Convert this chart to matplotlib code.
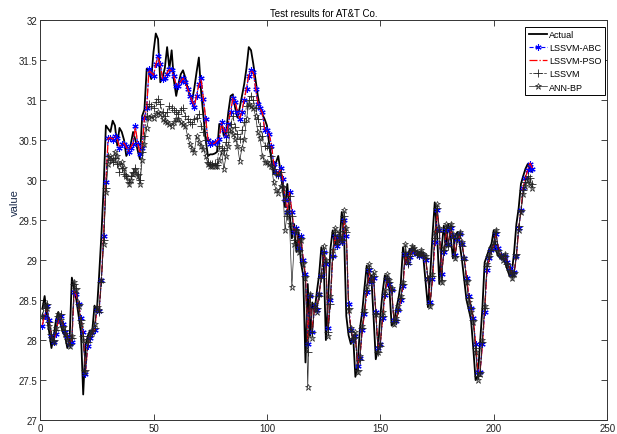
import matplotlib
matplotlib.use("Agg")
import matplotlib.pyplot as plt
import numpy as np

# Test results for AT&T Co. -- day index 1..217
actual = [28.39, 28.55, 28.30, 28.10, 27.90, 28.05, 28.25, 28.35, 28.20, 28.10,
          28.05, 27.90, 28.00, 28.78, 28.64, 28.50, 28.30, 28.10, 27.32, 27.93,
          28.05, 28.12, 28.12, 28.43, 28.35, 28.80, 29.30, 29.90, 30.68, 30.64,
          30.60, 30.74, 30.68, 30.43, 30.65, 30.60, 30.50, 30.30, 30.35, 30.45,
          30.60, 30.50, 30.37, 30.26, 30.80, 30.88, 31.39, 31.37, 31.26, 31.60,
          31.83, 31.76, 31.22, 31.28, 31.40, 31.66, 31.39, 31.62, 31.24, 31.05,
          31.20, 31.32, 31.37, 31.28, 31.15, 31.05, 30.99, 31.15, 31.35, 31.53,
          31.10, 30.80, 30.50, 30.30, 30.32, 30.32, 30.33, 30.35, 30.70, 30.70,
          30.55, 30.60, 30.85, 31.05, 31.07, 30.90, 30.78, 30.90, 31.05, 31.20,
          31.40, 31.66, 31.62, 31.45, 31.25, 31.05, 30.90, 30.82, 30.76, 30.68,
          30.45, 30.25, 30.08, 30.22, 30.30, 30.10, 29.89, 29.66, 29.95, 29.58,
          29.27, 29.45, 29.10, 29.35, 28.97, 28.81, 27.72, 28.70, 28.05, 28.47,
          28.35, 28.60, 28.81, 29.16, 29.02, 28.00, 28.52, 29.14, 29.37, 29.18,
          29.31, 29.22, 29.60, 29.33, 28.30, 28.06, 27.95, 28.06, 27.54, 27.70,
          28.14, 28.35, 28.65, 28.93, 28.72, 28.81, 28.30, 27.76, 27.90, 28.30,
          28.60, 28.81, 28.72, 28.64, 28.18, 28.22, 28.39, 28.52, 28.70, 29.16,
          28.95, 29.05, 29.14, 29.12, 29.08, 29.06, 29.10, 29.06, 29.02, 28.72,
          28.41, 28.81, 29.31, 29.72, 29.35, 28.70, 29.14, 29.43, 29.18, 29.45,
          29.30, 29.02, 29.30, 29.35, 29.20, 29.00, 28.75, 28.50, 28.38, 28.25,
          27.89, 27.50, 27.55, 27.97, 28.40, 28.97, 29.05, 29.14, 29.20, 29.37,
          29.12, 29.05, 29.02, 29.06, 28.97, 28.88, 28.80, 28.85, 29.10, 29.45,
          29.65, 29.95, 30.05, 30.14, 30.20, 30.12, 30.10]

lssvm_abc = [28.18, 28.30, 28.42, 28.25, 28.05, 27.98, 28.08, 28.25, 28.30, 28.20,
             28.10, 28.05, 27.95, 27.98, 28.60, 28.58, 28.45, 28.28, 28.10, 27.58,
             27.92, 28.02, 28.10, 28.12, 28.38, 28.36, 28.75, 29.30, 29.98, 30.53,
             30.52, 30.50, 30.55, 30.52, 30.40, 30.45, 30.45, 30.42, 30.35, 30.40,
             30.45, 30.68, 30.45, 30.33, 30.40, 30.78, 30.90, 31.39, 31.33, 31.30,
             31.45, 31.55, 31.45, 31.26, 31.28, 31.33, 31.39, 31.37, 31.30, 31.18,
             31.18, 31.24, 31.28, 31.22, 31.14, 31.05, 30.98, 30.91, 31.05, 31.20,
             31.27, 31.01, 30.76, 30.50, 30.45, 30.46, 30.47, 30.48, 30.51, 30.72,
             30.62, 30.55, 30.70, 30.85, 31.03, 30.98, 30.85, 30.76, 30.85, 31.00,
             31.14, 31.30, 31.38, 31.35, 31.14, 30.95, 30.90, 30.85, 30.62, 30.62,
             30.58, 30.43, 30.20, 30.10, 30.06, 30.15, 30.01, 29.75, 29.60, 29.85,
             29.60, 29.35, 29.40, 29.15, 29.30, 29.00, 28.82, 27.95, 28.55, 28.10,
             28.42, 28.38, 28.58, 28.80, 29.10, 28.95, 28.15, 28.50, 29.05, 29.30,
             29.18, 29.28, 29.22, 29.50, 29.30, 28.45, 28.12, 28.00, 28.05, 27.68,
             27.78, 28.12, 28.33, 28.60, 28.88, 28.72, 28.78, 28.35, 27.90, 27.95,
             28.28, 28.56, 28.76, 28.70, 28.62, 28.25, 28.24, 28.37, 28.50, 28.68,
             29.08, 28.96, 29.04, 29.12, 29.10, 29.07, 29.05, 29.08, 29.05, 29.00,
             28.76, 28.48, 28.76, 29.22, 29.62, 29.38, 28.82, 29.10, 29.38, 29.20,
             29.40, 29.30, 29.06, 29.26, 29.32, 29.20, 29.02, 28.78, 28.55, 28.40,
             28.28, 27.95, 27.60, 27.60, 27.95, 28.35, 28.88, 29.02, 29.12, 29.18,
             29.33, 29.15, 29.06, 29.03, 29.05, 28.98, 28.90, 28.82, 28.85, 29.05,
             29.40, 29.62, 29.90, 30.02, 30.12, 30.20, 30.14]

lssvm_pso = [28.19, 28.31, 28.40, 28.24, 28.06, 27.99, 28.09, 28.24, 28.29, 28.21,
             28.11, 28.04, 27.96, 28.00, 28.62, 28.57, 28.44, 28.27, 28.09, 27.60,
             27.93, 28.03, 28.09, 28.13, 28.37, 28.37, 28.74, 29.31, 29.96, 30.52,
             30.53, 30.51, 30.54, 30.51, 30.41, 30.44, 30.46, 30.41, 30.36, 30.41,
             30.46, 30.66, 30.46, 30.34, 30.41, 30.77, 30.91, 31.37, 31.34, 31.31,
             31.44, 31.54, 31.44, 31.27, 31.29, 31.34, 31.38, 31.36, 31.29, 31.19,
             31.19, 31.23, 31.27, 31.21, 31.15, 31.06, 30.99, 30.92, 31.06, 31.19,
             31.26, 31.02, 30.77, 30.51, 30.46, 30.45, 30.46, 30.49, 30.52, 30.71,
             30.63, 30.56, 30.71, 30.86, 31.02, 30.97, 30.86, 30.77, 30.86, 31.01,
             31.15, 31.31, 31.37, 31.34, 31.15, 30.96, 30.89, 30.84, 30.63, 30.61,
             30.57, 30.44, 30.21, 30.11, 30.07, 30.14, 30.02, 29.76, 29.61, 29.84,
             29.61, 29.36, 29.39, 29.16, 29.29, 29.01, 28.81, 27.97, 28.54, 28.11,
             28.41, 28.39, 28.57, 28.79, 29.09, 28.96, 28.16, 28.49, 29.04, 29.29,
             29.19, 29.27, 29.23, 29.49, 29.31, 28.46, 28.13, 28.01, 28.04, 27.69,
             27.79, 28.11, 28.34, 28.59, 28.87, 28.73, 28.77, 28.36, 27.91, 27.96,
             28.27, 28.55, 28.75, 28.71, 28.61, 28.26, 28.25, 28.36, 28.51, 28.67,
             29.07, 28.97, 29.03, 29.11, 29.11, 29.06, 29.06, 29.07, 29.06, 29.01,
             28.77, 28.49, 28.75, 29.21, 29.61, 29.39, 28.83, 29.09, 29.37, 29.21,
             29.39, 29.31, 29.07, 29.25, 29.31, 29.21, 29.03, 28.79, 28.56, 28.41,
             28.27, 27.96, 27.61, 27.61, 27.94, 28.36, 28.87, 29.01, 29.11, 29.19,
             29.32, 29.16, 29.07, 29.04, 29.04, 28.99, 28.91, 28.83, 28.84, 29.04,
             29.39, 29.61, 29.91, 30.03, 30.13, 30.21, 30.15]

lssvm = [28.30, 28.40, 28.45, 28.22, 28.08, 28.00, 28.12, 28.30, 28.32, 28.18,
         28.12, 28.05, 27.95, 28.02, 28.70, 28.65, 28.45, 28.25, 28.05, 27.62,
         27.98, 28.05, 28.12, 28.15, 28.42, 28.35, 28.72, 29.25, 29.90, 30.30,
         30.25, 30.22, 30.28, 30.20, 30.10, 30.15, 30.08, 30.05, 29.98, 30.05,
         30.10, 30.15, 30.08, 30.00, 30.35, 30.55, 30.80, 30.95, 30.92, 30.90,
         30.98, 31.01, 30.95, 30.85, 30.80, 30.85, 30.92, 30.90, 30.88, 30.85,
         30.82, 30.88, 30.90, 30.80, 30.76, 30.72, 30.70, 30.76, 30.78, 30.82,
         30.68, 30.60, 30.50, 30.22, 30.20, 30.20, 30.21, 30.19, 30.43, 30.40,
         30.37, 30.47, 30.60, 30.70, 30.80, 30.66, 30.58, 30.51, 30.62, 30.72,
         30.93, 31.00, 31.05, 31.00, 30.90, 30.76, 30.68, 30.55, 30.43, 30.43,
         30.40, 30.30, 30.14, 30.08, 30.06, 30.10, 29.93, 29.75, 29.55, 29.80,
         29.55, 29.25, 29.38, 29.12, 29.28, 28.98, 28.80, 27.85, 28.55, 28.10,
         28.40, 28.40, 28.55, 28.78, 29.10, 28.98, 28.10, 28.45, 29.05, 29.35,
         29.20, 29.30, 29.25, 29.55, 29.35, 28.40, 28.10, 28.02, 28.04, 27.62,
         27.75, 28.15, 28.35, 28.62, 28.90, 28.72, 28.80, 28.32, 27.85, 27.92,
         28.30, 28.58, 28.78, 28.72, 28.62, 28.22, 28.25, 28.38, 28.52, 28.70,
         29.10, 28.95, 29.05, 29.15, 29.12, 29.08, 29.06, 29.10, 29.06, 29.02,
         28.75, 28.45, 28.80, 29.28, 29.65, 29.35, 28.75, 29.12, 29.40, 29.18,
         29.42, 29.28, 29.05, 29.28, 29.32, 29.18, 29.00, 28.75, 28.52, 28.40,
         28.25, 27.90, 27.55, 27.60, 27.98, 28.40, 28.92, 29.05, 29.12, 29.20,
         29.35, 29.12, 29.05, 29.02, 29.05, 28.95, 28.88, 28.80, 28.85, 29.08,
         29.42, 29.62, 29.88, 29.98, 30.05, 30.02, 29.95]

ann_bp = [28.30, 28.45, 28.40, 28.18, 28.02, 27.98, 28.15, 28.32, 28.25, 28.15,
          28.08, 28.00, 27.92, 28.05, 28.72, 28.62, 28.42, 28.20, 28.00, 27.60,
          28.00, 28.08, 28.10, 28.20, 28.40, 28.38, 28.75, 29.20, 29.85, 30.20,
          30.30, 30.25, 30.35, 30.30, 30.20, 30.22, 30.15, 30.05, 29.95, 30.00,
          30.08, 30.12, 30.05, 29.95, 30.25, 30.45, 30.65, 30.78, 30.80, 30.78,
          30.82, 30.85, 30.82, 30.76, 30.74, 30.72, 30.70, 30.68, 30.72, 30.76,
          30.76, 30.72, 30.70, 30.68, 30.55, 30.45, 30.39, 30.35, 30.55, 30.48,
          30.43, 30.39, 30.30, 30.20, 30.18, 30.17, 30.18, 30.17, 30.25, 30.35,
          30.14, 30.30, 30.43, 30.64, 30.58, 30.51, 30.43, 30.24, 30.40, 30.51,
          30.76, 30.95, 30.93, 30.90, 30.80, 30.60, 30.52, 30.30, 30.22, 30.22,
          30.20, 30.18, 29.97, 29.88, 29.84, 29.92, 29.90, 29.37, 29.60, 29.45,
          28.66, 29.20, 29.38, 29.10, 29.25, 28.95, 28.78, 27.41, 28.58, 28.02,
          28.45, 28.35, 28.58, 28.82, 29.18, 29.00, 28.05, 28.55, 29.12, 29.40,
          29.22, 29.35, 29.25, 29.62, 29.40, 28.38, 28.15, 28.00, 28.10, 27.60,
          27.80, 28.18, 28.38, 28.68, 28.95, 28.75, 28.85, 28.32, 27.85, 27.95,
          28.35, 28.62, 28.82, 28.75, 28.65, 28.20, 28.28, 28.42, 28.55, 28.72,
          29.20, 29.00, 29.10, 29.18, 29.15, 29.10, 29.08, 29.12, 29.08, 29.05,
          28.78, 28.42, 28.82, 29.35, 29.70, 29.40, 28.72, 29.15, 29.45, 29.20,
          29.45, 29.32, 29.02, 29.30, 29.35, 29.22, 29.02, 28.72, 28.48, 28.35,
          28.22, 27.85, 27.50, 27.58, 28.00, 28.42, 28.95, 29.06, 29.15, 29.22,
          29.38, 29.10, 29.05, 29.00, 29.08, 28.95, 28.85, 28.78, 28.82, 29.05,
          29.38, 29.60, 29.82, 29.92, 30.00, 29.95, 29.90]

days = np.arange(1, len(actual) + 1)

plt.rcParams['font.family'] = ['Liberation Sans Narrow', 'Liberation Sans', 'DejaVu Sans']

fig = plt.figure(figsize=(6.17, 4.35), dpi=100)
ax = fig.add_axes([0.065, 0.032, 0.919, 0.920])

asterisk = (6, 2, 0)
ax.plot(days, actual, color='black', lw=1.3, label='Actual')
ax.plot(days, lssvm_abc, color='blue', ls='--', lw=0.8, marker=asterisk,
        ms=4.5, mew=0.8, label='LSSVM-ABC')
ax.plot(days, lssvm_pso, color='red', ls='-.', lw=0.9, label='LSSVM-PSO')
ax.plot(days, lssvm, color='#222222', ls='--', lw=0.5, marker='+',
        ms=5.5, mew=0.6, label='LSSVM')
ax.plot(days, ann_bp, color='#222222', ls='-', lw=0.5, marker='*',
        ms=4.5, mew=0.5, mfc='none', label='ANN-BP')

ax.set_xlim(0, 250)
ax.set_ylim(27, 32)
ax.set_xticks(np.arange(0, 251, 50))
ax.set_yticks(np.arange(27, 32.01, 0.5))
ax.set_yticklabels(['27', '27.5', '28', '28.5', '29', '29.5', '30', '30.5',
                    '31', '31.5', '32'])
ax.tick_params(direction='in', top=True, right=True, length=4, width=0.6,
               labelsize=7, pad=2, colors='#222222')
for s in ax.spines.values():
    s.set_linewidth(0.7)
    s.set_color('#333333')

ax.set_title('Test results for AT&T Co.', fontsize=7, pad=3)
ax.set_ylabel('value', fontsize=8, color='#1a2a4a')
ax.yaxis.set_label_coords(-0.036, 0.545)

leg = ax.legend(loc='upper right', bbox_to_anchor=(0.997, 0.983),
                borderaxespad=0, fontsize=6.5, fancybox=False, framealpha=1,
                edgecolor='black', handlelength=2.0, labelspacing=0.45,
                borderpad=0.4, handletextpad=0.3)
leg.get_frame().set_linewidth(0.7)

fig.savefig('out.png', dpi=100)
